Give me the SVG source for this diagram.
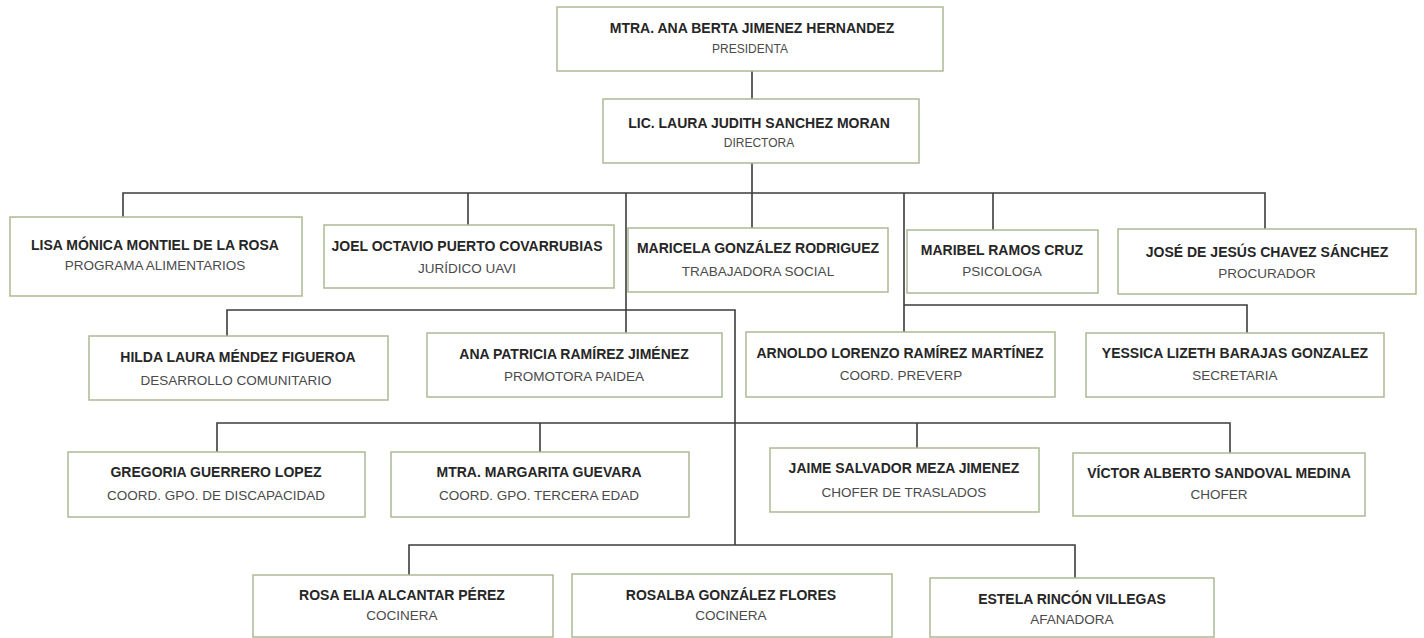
<svg xmlns="http://www.w3.org/2000/svg" width="1424" height="638" viewBox="0 0 1424 638">
<style>
.bg{fill:#ffffff}
.box{fill:#ffffff;stroke:#adb995;stroke-width:1.5}
.nm{font-family:"Liberation Sans",Arial,sans-serif;font-weight:bold;font-size:14px;fill:#262626;text-anchor:middle}
.tt{font-family:"Liberation Sans",Arial,sans-serif;font-size:13.5px;fill:#4a4a4a;text-anchor:middle}
.tts{font-family:"Liberation Sans",Arial,sans-serif;font-size:12px;fill:#4a4a4a;text-anchor:middle}
.ln{fill:none;stroke:#3c3c3c;stroke-width:1.6}
</style>
<rect class="bg" x="0" y="0" width="1424" height="638"/>
<g id="connectors">
<path class="ln" d="M752 71V99M752 163V228"/>
<path class="ln" d="M123 217V193H1265V229M468 193V225M626 193V333M904 193V332M993 193V230"/>
<path class="ln" d="M227 336V310H735V545M904 305H1247V333"/>
<path class="ln" d="M217 452V423H1230V453M540 423V452M917 423V448"/>
<path class="ln" d="M409 575V545H1075V578"/>
</g>
<g id="n-presidenta"><rect class="box" x="557" y="7" width="386" height="64"/><text class="nm" x="752" y="33">MTRA. ANA BERTA JIMENEZ HERNANDEZ</text><text class="tts" x="750" y="53">PRESIDENTA</text></g>
<g id="n-directora"><rect class="box" x="603" y="99" width="316" height="64"/><text class="nm" x="759" y="128">LIC. LAURA JUDITH SANCHEZ MORAN</text><text class="tts" x="759" y="147">DIRECTORA</text></g>
<g id="n-lisa"><rect class="box" x="10" y="217" width="292" height="79"/><text class="nm" x="155" y="250">LISA MÓNICA MONTIEL DE LA ROSA</text><text class="tt" x="155" y="270">PROGRAMA ALIMENTARIOS</text></g>
<g id="n-joel"><rect class="box" x="324" y="225" width="290" height="63"/><text class="nm" x="467" y="251">JOEL OCTAVIO PUERTO COVARRUBIAS</text><text class="tt" x="467" y="273">JURÍDICO UAVI</text></g>
<g id="n-maricela"><rect class="box" x="628" y="228" width="260" height="64"/><text class="nm" x="758" y="253">MARICELA GONZÁLEZ RODRIGUEZ</text><text class="tt" x="758" y="276">TRABAJADORA SOCIAL</text></g>
<g id="n-maribel"><rect class="box" x="907" y="230" width="191" height="63"/><text class="nm" x="1002" y="255">MARIBEL RAMOS CRUZ</text><text class="tt" x="1002" y="276">PSICOLOGA</text></g>
<g id="n-jose"><rect class="box" x="1118" y="229" width="298" height="65"/><text class="nm" x="1267" y="257">JOSÉ DE JESÚS CHAVEZ SÁNCHEZ</text><text class="tt" x="1267" y="278">PROCURADOR</text></g>
<g id="n-hilda"><rect class="box" x="89" y="336" width="299" height="64"/><text class="nm" x="238" y="362">HILDA LAURA MÉNDEZ FIGUEROA</text><text class="tt" x="236" y="385">DESARROLLO COMUNITARIO</text></g>
<g id="n-ana"><rect class="box" x="427" y="333" width="295" height="64"/><text class="nm" x="574" y="359">ANA PATRICIA RAMÍREZ JIMÉNEZ</text><text class="tt" x="574" y="381">PROMOTORA PAIDEA</text></g>
<g id="n-arnoldo"><rect class="box" x="746" y="332" width="309" height="65"/><text class="nm" x="900" y="358">ARNOLDO LORENZO RAMÍREZ MARTÍNEZ</text><text class="tt" x="901" y="380">COORD. PREVERP</text></g>
<g id="n-yessica"><rect class="box" x="1086" y="333" width="298" height="64"/><text class="nm" x="1235" y="358">YESSICA LIZETH BARAJAS GONZALEZ</text><text class="tt" x="1235" y="380">SECRETARIA</text></g>
<g id="n-gregoria"><rect class="box" x="68" y="452" width="297" height="65"/><text class="nm" x="216" y="477">GREGORIA GUERRERO LOPEZ</text><text class="tt" x="216" y="500">COORD. GPO. DE DISCAPACIDAD</text></g>
<g id="n-margarita"><rect class="box" x="391" y="452" width="298" height="65"/><text class="nm" x="539" y="477">MTRA. MARGARITA GUEVARA</text><text class="tt" x="539" y="500">COORD. GPO. TERCERA EDAD</text></g>
<g id="n-jaime"><rect class="box" x="770" y="448" width="269" height="64"/><text class="nm" x="904" y="473">JAIME SALVADOR MEZA JIMENEZ</text><text class="tt" x="904" y="497">CHOFER DE TRASLADOS</text></g>
<g id="n-victor"><rect class="box" x="1073" y="453" width="292" height="63"/><text class="nm" x="1219" y="478">VÍCTOR ALBERTO SANDOVAL MEDINA</text><text class="tt" x="1219" y="499">CHOFER</text></g>
<g id="n-rosa"><rect class="box" x="253" y="575" width="300" height="62"/><text class="nm" x="402" y="600">ROSA ELIA ALCANTAR PÉREZ</text><text class="tt" x="402" y="620">COCINERA</text></g>
<g id="n-rosalba"><rect class="box" x="572" y="574" width="320" height="63"/><text class="nm" x="731" y="600">ROSALBA GONZÁLEZ FLORES</text><text class="tt" x="731" y="620">COCINERA</text></g>
<g id="n-estela"><rect class="box" x="930" y="578" width="284" height="59"/><text class="nm" x="1072" y="604">ESTELA RINCÓN VILLEGAS</text><text class="tt" x="1072" y="624">AFANADORA</text></g>
</svg>
